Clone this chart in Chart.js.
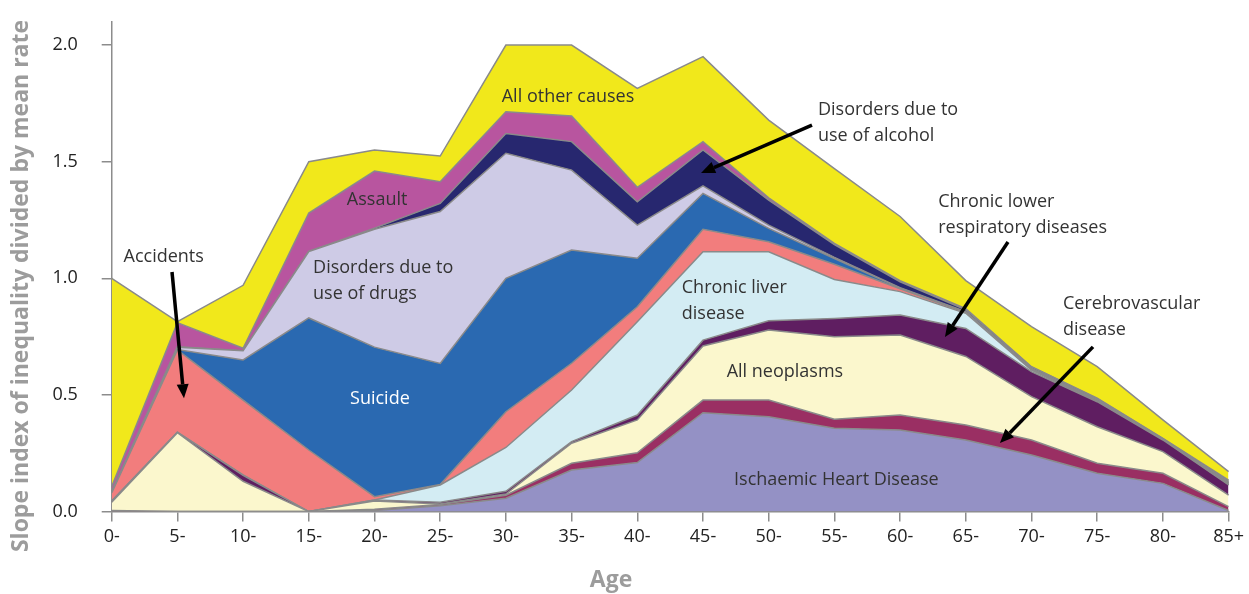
<!DOCTYPE html>
<html>
<head>
<meta charset="utf-8">
<script src="https://cdn.jsdelivr.net/npm/chart.js@4.4.0/dist/chart.umd.min.js"></script>
<style>
html, body { margin: 0; padding: 0; background: #fff; }
</style>
</head>
<body>
<canvas id="grafico" width="1249" height="594"></canvas>
<script>
// Grupos de edad
const edades = ['0-', '5-', '10-', '15-', '20-', '25-', '30-', '35-', '40-', '45-', '50-', '55-', '60-', '65-', '70-', '75-', '80-', '85+'];

// Aporte de cada causa (se apilan de abajo hacia arriba)
const ischaemic = [0, 0, 0, 0, 0.005, 0.025, 0.057, 0.178, 0.21, 0.424, 0.407, 0.357, 0.35, 0.307, 0.243, 0.164, 0.121, 0.005];
const cerebro = [0.005, 0, 0, 0, 0.005, 0.005, 0.013, 0.029, 0.042, 0.054, 0.071, 0.039, 0.064, 0.064, 0.064, 0.043, 0.043, 0.016];
const neoplasms = [0.035, 0.338, 0.13, 0, 0.035, 0.003, 0.005, 0.086, 0.141, 0.232, 0.30, 0.354, 0.343, 0.294, 0.186, 0.157, 0.093, 0.05];
const respiratory = [0.005, 0.002, 0.025, 0, 0.005, 0.007, 0.012, 0.007, 0.021, 0.025, 0.04, 0.078, 0.086, 0.12, 0.107, 0.107, 0.05, 0.043];
const liver = [0, 0, 0.002, 0, 0, 0.074, 0.188, 0.221, 0.40, 0.379, 0.296, 0.167, 0.10, 0.065, 0.007, 0.002, 0.001, 0.002];
const accidents = [0.035, 0.353, 0.321, 0.264, 0.014, 0.002, 0.153, 0.115, 0.064, 0.096, 0.043, 0.065, 0.012, 0.003, 0.003, 0.002, 0.001, 0.004];
const suicide = [0, 0.002, 0.172, 0.566, 0.641, 0.519, 0.572, 0.485, 0.208, 0.154, 0.057, 0.025, 0.003, 0.002, 0.002, 0.002, 0.001, 0.002];
const drugs = [0.005, 0.01, 0.04, 0.285, 0.505, 0.651, 0.536, 0.343, 0.142, 0.032, 0.014, 0.005, 0.002, 0.002, 0.003, 0.003, 0.001, 0.003];
const alcohol = [0, 0.002, 0, 0, 0.005, 0.035, 0.085, 0.122, 0.10, 0.154, 0.107, 0.055, 0.025, 0.008, 0.005, 0.004, 0.002, 0.005];
const assault = [0.022, 0.103, 0.01, 0.165, 0.245, 0.093, 0.093, 0.11, 0.062, 0.036, 0.01, 0.005, 0.005, 0.005, 0.001, 0.002, 0.001, 0.005];
const otherCauses = [0.893, 0.004, 0.27, 0.22, 0.09, 0.11, 0.286, 0.304, 0.424, 0.364, 0.333, 0.32, 0.275, 0.12, 0.172, 0.135, 0.079, 0.036];

// Marcas del eje Y
const marcasY = [0, 0.5, 1.0, 1.5, 2.0];

const series = [
    { nombre: 'Ischaemic Heart Disease', datos: ischaemic, color: '#9491c5' },
    { nombre: 'Cerebrovascular disease', datos: cerebro, color: '#9a2f63' },
    { nombre: 'All neoplasms', datos: neoplasms, color: '#fbf7cd' },
    { nombre: 'Chronic lower respiratory diseases', datos: respiratory, color: '#5f1e61' },
    { nombre: 'Chronic liver disease', datos: liver, color: '#d3ecf3' },
    { nombre: 'Accidents', datos: accidents, color: '#f27d7d' },
    { nombre: 'Suicide', datos: suicide, color: '#2a69b1' },
    { nombre: 'Disorders due to use of drugs', datos: drugs, color: '#cecbe6' },
    { nombre: 'Disorders due to use of alcohol', datos: alcohol, color: '#27276f' },
    { nombre: 'Assault', datos: assault, color: '#b8559f' },
    { nombre: 'All other causes', datos: otherCauses, color: '#f1e81b' }
];

// Rótulos sobre el gráfico (x = índice de edad, y = valor)
const rotulos = [
    { lineas: ['All other causes'], x: 6.945, y: 1.777, align: 'center', color: '#333' },
    { lineas: ['Assault'], x: 4.04, y: 1.335, align: 'center', color: '#333' },
    { lineas: ['Disorders due to', 'use of drugs'], x: 3.065, y: 1.044, align: 'left', color: '#333' },
    { lineas: ['Accidents'], x: 0.18, y: 1.093, align: 'left', color: '#333' },
    { lineas: ['Suicide'], x: 4.082, y: 0.483, align: 'center', color: '#fff' },
    { lineas: ['Chronic liver', 'disease'], x: 8.677, y: 0.957, align: 'left', color: '#333' },
    { lineas: ['All neoplasms'], x: 9.36, y: 0.597, align: 'left', color: '#333' },
    { lineas: ['Ischaemic Heart Disease'], x: 11.03, y: 0.135, align: 'center', color: '#333' },
    { lineas: ['Disorders due to', 'use of alcohol'], x: 10.75, y: 1.721, align: 'left', color: '#333' },
    { lineas: ['Chronic lower', 'respiratory diseases'], x: 12.58, y: 1.328, align: 'left', color: '#333' },
    { lineas: ['Cerebrovascular', 'disease'], x: 14.48, y: 0.89, align: 'left', color: '#333' }
];

// Flechas: desde [x, y] hasta [x, y]
const flechas = [
    { desde: [0.918, 1.027], hasta: [1.1, 0.486] },
    { desde: [10.659, 1.657], hasta: [8.97, 1.451] },
    { desde: [13.642, 1.156], hasta: [12.683, 0.748] },
    { desde: [14.936, 0.706], hasta: [13.52, 0.294] }
];

const FUENTE = "'Open Sans', 'Noto Sans', sans-serif";

// Plugin para rótulos, flechas y títulos de los ejes
const anotaciones = {
    id: 'anotaciones',
    afterDatasetsDraw(chart) {
        const ctx = chart.ctx;
        const sx = chart.scales.x;
        const sy = chart.scales.y;

        ctx.save();
        ctx.font = '18px ' + FUENTE;
        ctx.textBaseline = 'middle';
        rotulos.forEach(r => {
            ctx.fillStyle = r.color;
            ctx.textAlign = r.align;
            const px = sx.getPixelForValue(r.x);
            const py = sy.getPixelForValue(r.y);
            r.lineas.forEach((t, i) => ctx.fillText(t, px, py + i * 26));
        });

        ctx.strokeStyle = '#000';
        ctx.fillStyle = '#000';
        ctx.lineWidth = 3.5;
        flechas.forEach(f => {
            const x1 = sx.getPixelForValue(f.desde[0]);
            const y1 = sy.getPixelForValue(f.desde[1]);
            const x2 = sx.getPixelForValue(f.hasta[0]);
            const y2 = sy.getPixelForValue(f.hasta[1]);
            const ang = Math.atan2(y2 - y1, x2 - x1);
            const largo = 14;
            const ancho = 6;
            const bx = x2 - largo * Math.cos(ang);
            const by = y2 - largo * Math.sin(ang);
            ctx.beginPath();
            ctx.moveTo(x1, y1);
            ctx.lineTo(bx, by);
            ctx.stroke();
            ctx.beginPath();
            ctx.moveTo(x2, y2);
            ctx.lineTo(bx + ancho * Math.sin(ang), by - ancho * Math.cos(ang));
            ctx.lineTo(bx - ancho * Math.sin(ang), by + ancho * Math.cos(ang));
            ctx.closePath();
            ctx.fill();
        });
        ctx.restore();
    },
    afterDraw(chart) {
        const ctx = chart.ctx;
        ctx.save();
        ctx.font = 'bold 23px ' + FUENTE;
        ctx.fillStyle = '#9c9c9c';
        ctx.textAlign = 'center';
        ctx.textBaseline = 'middle';
        ctx.fillText('Age', 611, 580);
        ctx.translate(21, 286);
        ctx.rotate(-Math.PI / 2);
        ctx.fillText('Slope index of inequality divided by mean rate', 0, 0);
        ctx.restore();
    }
};

Chart.defaults.font.family = FUENTE;

const grafico = new Chart(document.getElementById('grafico'), {
    type: 'line',
    data: {
        labels: edades,
        datasets: series.map((s, i) => ({
            label: s.nombre,
            data: s.datos,
            backgroundColor: s.color,
            borderColor: '#8a8a8a',
            borderWidth: 1.5,
            pointRadius: 0,
            tension: 0,
            fill: i === 0 ? 'origin' : '-1'
        }))
    },
    options: {
        responsive: false,
        animation: false,
        events: [],
        layout: { padding: { top: 21.7, right: 20.4, bottom: 0, left: 0 } },
        plugins: {
            legend: { display: false },
            tooltip: { enabled: false }
        },
        scales: {
            x: {
                offset: false,
                grid: { drawOnChartArea: false, drawTicks: true, tickLength: 10, color: '#8c8c8c', lineWidth: 1.5 },
                border: { display: true, color: '#8c8c8c', width: 1.5 },
                ticks: { color: '#222', font: { size: 18 }, padding: 4, maxRotation: 0, autoSkip: false },
                afterFit: s => {
                    s.height = 82.4;
                    s.paddingLeft = 0;
                    s.paddingRight = 0;
                }
            },
            y: {
                stacked: true,
                min: 0,
                max: 2.1,
                grid: { drawOnChartArea: false, drawTicks: true, tickLength: 10, color: '#8c8c8c', lineWidth: 1.5 },
                border: { display: true, color: '#8c8c8c', width: 1.5 },
                ticks: {
                    color: '#222',
                    font: { size: 18 },
                    padding: 24,
                    includeBounds: false,
                    callback: v => v.toFixed(1)
                },
                afterBuildTicks: s => { s.ticks = marcasY.map(v => ({ value: v })); },
                afterFit: s => {
                    s.width = 111.7;
                    s.paddingTop = 0;
                    s.paddingBottom = 0;
                }
            }
        }
    },
    plugins: [anotaciones]
});
</script>
</body>
</html>
